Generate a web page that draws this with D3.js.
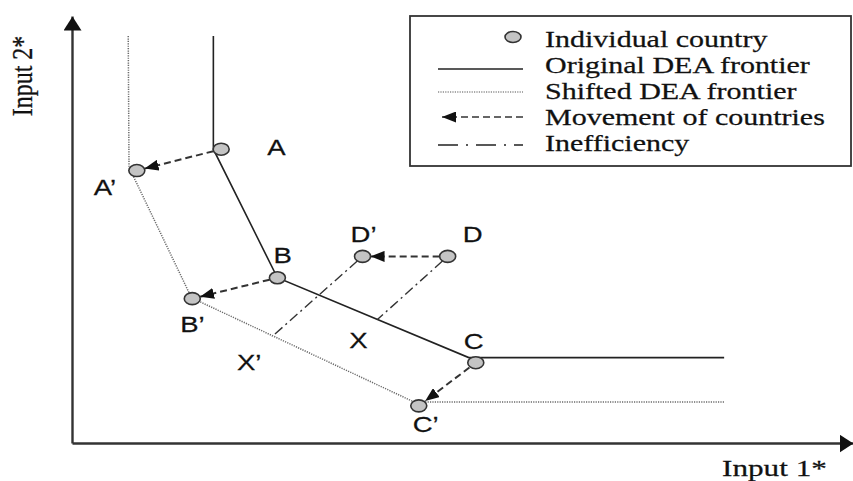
<!DOCTYPE html>
<html>
<head>
<meta charset="utf-8">
<script src="https://cdn.jsdelivr.net/npm/d3@7"></script>
<style>
  html, body { margin: 0; padding: 0; background: #fff; }
  svg { display: block; }
</style>
</head>
<body>
<svg id="chart" width="853" height="481"></svg>
<script>
// ---------------- data ----------------
const countries = ["A", "A\u2019", "B", "B\u2019", "C", "C\u2019", "D", "D\u2019"];
const input1    = [19.1, 8.3, 26.3, 15.4, 51.7, 44.4, 48.1, 37.2];
const input2    = [68.8, 63.8, 38.7, 33.8, 18.8, 8.7, 43.7, 43.7];

const projections  = ["X", "X\u2019"];
const projInput1   = [39.1, 25.6];
const projInput2   = [28.9, 24.9];

const originalFrontierX = [18.1, 18.1, 26.3, 50.8, 83.5];
const originalFrontierY = [95.3, 68.8, 38.7, 20.0, 20.0];
const shiftedFrontierX  = [7.2, 7.3, 15.3, 43.8, 83.5];
const shiftedFrontierY  = [95.3, 64.6, 34.0, 9.6, 9.6];

const movementFrom = ["A", "B", "C", "D"];
const movementTo   = ["A\u2019", "B\u2019", "C\u2019", "D\u2019"];

const inefficiencyFrom = ["D", "D\u2019"];
const inefficiencyTo   = ["X", "X\u2019"];

const legendLabels = ["Individual country", "Original DEA frontier", "Shifted DEA frontier", "Movement of countries", "Inefficiency"];
const xAxisTitle = "Input 1*";
const yAxisTitle = "Input 2*";

// ---------------- layout ----------------
const labelOffset = {
  "A": [46, 6], "A\u2019": [-43, 24], "B": [-4, -15], "B\u2019": [-12, 33],
  "C": [-12, -14], "C\u2019": [-6, 26], "D": [15, -14], "D\u2019": [-12, -14],
  "X": [-28, 28], "X\u2019": [-35, 33]
};

const svg = d3.select("#chart");
const x = d3.scaleLinear().domain([0, 100]).range([72, 853]);
const y = d3.scaleLinear().domain([0, 100]).range([443, 16]);

const defs = svg.append("defs");
defs.append("marker").attr("id", "axisArrow")
  .attr("markerUnits", "userSpaceOnUse").attr("viewBox", "0 0 14 18")
  .attr("markerWidth", 14).attr("markerHeight", 18)
  .attr("refX", 14).attr("refY", 9).attr("orient", "auto")
  .append("path").attr("d", "M0,0 L14,9 L0,18 Z").attr("fill", "#111");
defs.append("marker").attr("id", "moveArrow")
  .attr("markerUnits", "userSpaceOnUse").attr("viewBox", "0 0 14 11")
  .attr("markerWidth", 14).attr("markerHeight", 11)
  .attr("refX", 14).attr("refY", 5.5).attr("orient", "auto")
  .append("path").attr("d", "M0,0 L14,5.5 L0,11 Z").attr("fill", "#111");

// ---------------- axes ----------------
const gx = svg.append("g").attr("transform", `translate(0,${y(0)})`)
  .call(d3.axisBottom(x).tickValues([]).tickSizeOuter(0));
gx.select(".domain").attr("stroke", "#333").attr("stroke-width", 2.4)
  .attr("marker-end", "url(#axisArrow)");
const gy = svg.append("g").attr("transform", `translate(${x(0)},0)`)
  .call(d3.axisLeft(y).tickValues([]).tickSizeOuter(0));
gy.select(".domain").attr("stroke", "#333").attr("stroke-width", 2.4)
  .attr("marker-end", "url(#axisArrow)");

function stretchedText(parent, txt, px, py, opts) {
  const g = parent.append("g")
    .attr("transform", `translate(${px},${py}) scale(${opts.sx},1)` + (opts.rotate ? ` rotate(${opts.rotate})` : ""));
  return g.append("text").text(txt)
    .attr("font-family", opts.family).attr("font-size", opts.size)
    .attr("text-anchor", opts.anchor || "start")
    .attr("fill", opts.fill || "#111")
    .attr("stroke", opts.fill || "#111").attr("stroke-width", 0.25);
}
const serif = "'Liberation Serif', 'Times New Roman', serif";
const sans = "'Liberation Sans', Arial, sans-serif";

stretchedText(svg, yAxisTitle, 32, 76, {sx: 1.2, rotate: -90, family: serif, size: 24, anchor: "middle"});
stretchedText(svg, xAxisTitle, 722, 476, {sx: 1.3, family: serif, size: 24});

// ---------------- frontiers ----------------
const line = d3.line().x(d => x(d[0])).y(d => y(d[1]));
svg.append("path")
  .attr("d", line(originalFrontierX.map((v, i) => [v, originalFrontierY[i]])))
  .attr("fill", "none").attr("stroke", "#222").attr("stroke-width", 1.6);
svg.append("path")
  .attr("d", line(shiftedFrontierX.map((v, i) => [v, shiftedFrontierY[i]])))
  .attr("fill", "none").attr("stroke", "#6a6a6a").attr("stroke-width", 1.5)
  .attr("stroke-dasharray", "1.2,1.2");

// position lookup
const pos = {};
countries.forEach((c, i) => pos[c] = [x(input1[i]), y(input2[i])]);
projections.forEach((c, i) => pos[c] = [x(projInput1[i]), y(projInput2[i])]);

function trimmed(a, b, s0, s1) {
  const dx = b[0] - a[0], dy = b[1] - a[1], L = Math.hypot(dx, dy);
  return [[a[0] + dx * s0 / L, a[1] + dy * s0 / L], [b[0] - dx * s1 / L, b[1] - dy * s1 / L]];
}

// inefficiency lines
inefficiencyFrom.forEach((f, i) => {
  const [p, q] = trimmed(pos[f], pos[inefficiencyTo[i]], 7, 0);
  svg.append("line").attr("x1", p[0]).attr("y1", p[1]).attr("x2", q[0]).attr("y2", q[1])
    .attr("stroke", "#333").attr("stroke-width", 1.4).attr("stroke-dasharray", "10,4,2,4");
});

// movement arrows
movementFrom.forEach((f, i) => {
  const [p, q] = trimmed(pos[f], pos[movementTo[i]], 8, 8);
  svg.append("line").attr("x1", p[0]).attr("y1", p[1]).attr("x2", q[0]).attr("y2", q[1])
    .attr("stroke", "#333").attr("stroke-width", 2).attr("stroke-dasharray", "7,4")
    .attr("marker-end", "url(#moveArrow)");
});

// countries
svg.append("g").selectAll("ellipse").data(countries).join("ellipse")
  .attr("cx", (d, i) => x(input1[i])).attr("cy", (d, i) => y(input2[i]))
  .attr("rx", 8).attr("ry", 6)
  .attr("fill", "#c4c4c4").attr("stroke", "#333").attr("stroke-width", 1.6);

// labels
countries.concat(projections).forEach(c => {
  const o = labelOffset[c];
  stretchedText(svg, c, pos[c][0] + o[0], pos[c][1] + o[1], {sx: 1.25, family: sans, size: 22});
});

// ---------------- legend ----------------
const lg = svg.append("g");
lg.append("rect").attr("x", 410).attr("y", 16).attr("width", 441).attr("height", 150)
  .attr("fill", "#fff").attr("stroke", "#333").attr("stroke-width", 1.8);
const rowY = [37, 69, 92, 117, 145];
const baseY = [47, 73, 99, 125, 151];
lg.append("ellipse").attr("cx", 513).attr("cy", rowY[0]).attr("rx", 8).attr("ry", 5.5)
  .attr("fill", "#c4c4c4").attr("stroke", "#333").attr("stroke-width", 1.6);
lg.append("line").attr("x1", 438).attr("x2", 523).attr("y1", rowY[1]).attr("y2", rowY[1])
  .attr("stroke", "#222").attr("stroke-width", 1.6);
lg.append("line").attr("x1", 438).attr("x2", 523).attr("y1", rowY[2]).attr("y2", rowY[2])
  .attr("stroke", "#555").attr("stroke-width", 1.2).attr("stroke-dasharray", "1.2,1.2");
lg.append("line").attr("x1", 523).attr("x2", 442).attr("y1", rowY[3]).attr("y2", rowY[3])
  .attr("stroke", "#666").attr("stroke-width", 2).attr("stroke-dasharray", "7,4")
  .attr("marker-end", "url(#moveArrow)");
lg.append("line").attr("x1", 438).attr("x2", 523).attr("y1", rowY[4]).attr("y2", rowY[4])
  .attr("stroke", "#222").attr("stroke-width", 1.6).attr("stroke-dasharray", "20,8,2,8");
legendLabels.forEach((t, i) => {
  stretchedText(lg, t, 545, baseY[i], {sx: 1.25, family: serif, size: 24});
});
</script>
</body>
</html>
